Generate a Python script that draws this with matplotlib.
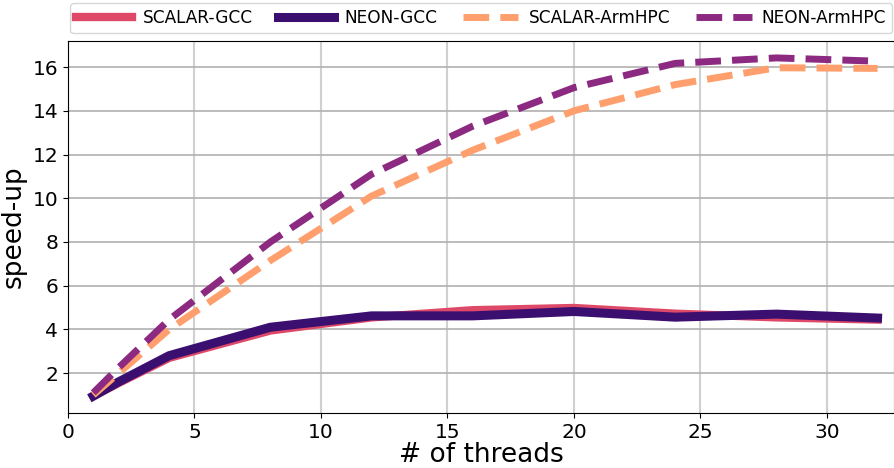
import matplotlib
matplotlib.use("Agg")
import matplotlib.pyplot as plt

# thread counts and speed-up values
threads = [1, 2, 4, 8, 12, 16, 20, 24, 28, 32]
scalar_gcc = [0.95, 1.55, 2.7, 3.95, 4.55, 4.88, 4.98, 4.72, 4.55, 4.45]
neon_gcc = [0.95, 1.6, 2.8, 4.1, 4.62, 4.62, 4.82, 4.56, 4.7, 4.52]
scalar_arm = [1.0, 2.0, 4.0, 7.15, 10.1, 12.2, 14.0, 15.2, 15.97, 15.94]
neon_arm = [1.1, 2.25, 4.45, 8.0, 11.1, 13.3, 15.06, 16.17, 16.42, 16.27]

labels = ["SCALAR-GCC", "NEON-GCC", "SCALAR-ArmHPC", "NEON-ArmHPC"]
colors = ["#de4968", "#3b0f70", "#fe9f6d", "#8c2981"]

fig = plt.figure(figsize=(8.94, 4.68), dpi=100)
ax = fig.add_axes([68/894, 1-413/468, 1-68/894, (413-41)/468])

ax.plot(threads, scalar_gcc, color=colors[0], lw=6, label=labels[0])
ax.plot(threads, neon_gcc, color=colors[1], lw=6.5, label=labels[1])
ax.plot(threads, scalar_arm, color=colors[2], lw=5, ls="--", label=labels[2])
ax.plot(threads, neon_arm, color=colors[3], lw=5, ls="--", label=labels[3])

ax.set_xlim(0, 32.65)
ax.set_xticks([0, 5, 10, 15, 20, 25, 30])
ax.set_yticks([2, 4, 6, 8, 10, 12, 14, 16])
ax.yaxis.grid(True, color="#b0b0b0", lw=1.2)
ax.xaxis.grid(True, color="#d0d0d0", lw=1.5)
ax.tick_params(labelsize=14.5)
ax.set_xlabel("# of threads", fontsize=19, labelpad=0)
ax.set_ylabel("speed-up", fontsize=19)

fig.legend(loc="upper left", bbox_to_anchor=(62/894, 1+5/468), ncol=4,
           fontsize=12.2, handlelength=3.3, handletextpad=0.6,
           columnspacing=1.5, borderpad=0.35)

plt.savefig("out.png", dpi=100)
